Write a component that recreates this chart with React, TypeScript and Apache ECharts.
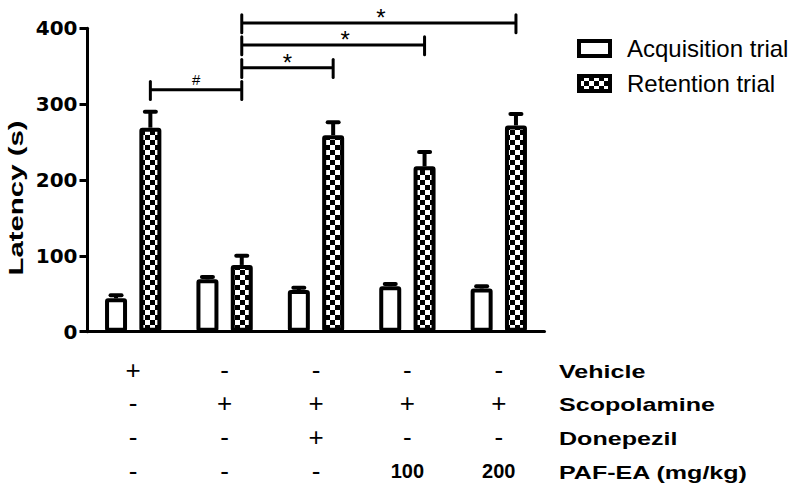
import React, { useEffect, useRef } from 'react';
import * as echarts from 'echarts';

// ---- data ----
const groups = ['Vehicle', 'Scopolamine', 'Scopolamine + Donepezil', 'Scopolamine + PAF-EA 100', 'Scopolamine + PAF-EA 200'];
const seriesNames = ['Acquisition trial', 'Retention trial'];
const acquisition = [44, 69, 55, 60, 57];
const acquisitionErr = [4, 3, 3, 3, 3];
const retention = [269, 88, 259, 218, 272];
const retentionErr = [21, 12, 17, 19, 15];
const yMin = 0;
const yMax = 400;
const yInterval = 100;

// significance brackets (between retention bars)
const bracketFrom = [0, 1, 1, 1];
const bracketTo = [1, 2, 3, 4];
const bracketY = [319, 348, 378, 407];
const bracketLabel = ['#', '*', '*', '*'];

// treatment table
const rowLabels = ['Vehicle', 'Scopolamine', 'Donepezil', 'PAF-EA (mg/kg)'];
const vehicleRow = ['+', '-', '-', '-', '-'];
const scopolamineRow = ['-', '+', '+', '+', '+'];
const donepezilRow = ['-', '-', '+', '-', '-'];
const pafRow = ['-', '-', '-', '100', '200'];

// ---- layout / style constants ----
const FONT = '"Liberation Sans", Arial, Helvetica, sans-serif';
const BAR_W = 22;
const BAR_GAP = 0.56;
const OFFSET = (BAR_W * (1 + BAR_GAP)) / 2;
const BORDER = 4;
const GRID = { left: 87.5, right: 254.5, top: 28.3, bottom: 160.3 };
const ROW_DY = [38, 71.5, 105, 139.5];
const LABEL_X = 559;
const BRACKET_LABEL_DX = [0, 0, 12, 2];
const TICK_UP = 11;
const TICK_DOWN = 13;

const checkerSvg =
  "<svg xmlns='http://www.w3.org/2000/svg' width='10' height='10'>" +
  "<rect width='10' height='10' fill='#ffffff'/>" +
  "<rect width='5' height='5' fill='#000000'/>" +
  "<rect x='5' y='5' width='5' height='5' fill='#000000'/></svg>";
const checkerUrl = 'data:image/svg+xml;charset=utf-8,' + encodeURIComponent(checkerSvg);

function errorSeries(values: number[], errs: number[], dir: number) {
  return {
    type: 'custom',
    z: 5,
    silent: true,
    encode: { x: 0, y: [1, 2] },
    data: values.map((v, i) => [i, v, v + errs[i]]),
    renderItem: (params: any, api: any) => {
      const base = api.coord([api.value(0), api.value(1)]);
      const top = api.coord([api.value(0), api.value(2)]);
      const x = base[0] + dir * OFFSET;
      return {
        type: 'group',
        children: [
          { type: 'line', shape: { x1: x, y1: base[1], x2: x, y2: top[1] }, style: { stroke: '#000', lineWidth: 4 } },
          { type: 'rect', shape: { x: x - 7.5, y: top[1] - 2, width: 15, height: 4, r: 2 }, style: { fill: '#000' } },
        ],
      };
    },
  };
}

export default function App() {
  const ref = useRef<HTMLDivElement>(null);

  useEffect(() => {
    document.body.style.margin = '0';
    const chart = echarts.init(ref.current!, null, { renderer: 'svg' });

    const tableRows = [vehicleRow, scopolamineRow, donepezilRow, pafRow];

    const option: any = {
      animation: false,
      backgroundColor: '#ffffff',
      grid: GRID,
      legend: {
        orient: 'vertical',
        left: 577,
        top: 36.5,
        padding: 0,
        itemWidth: 31,
        itemHeight: 15,
        itemGap: 11,
        icon: 'rect',
        selectedMode: false,
        itemStyle: { borderColor: '#000', borderWidth: BORDER },
        textStyle: { fontSize: 24, fontFamily: FONT, color: '#000', padding: [0, 0, 0, 12] },
        data: seriesNames,
      },
      xAxis: {
        type: 'category',
        data: groups,
        axisLine: { lineStyle: { color: '#000', width: 3 } },
        axisTick: { alignWithLabel: true, length: 9, lineStyle: { color: '#000', width: 3 } },
        axisLabel: { show: false },
        splitLine: { show: false },
      },
      yAxis: {
        type: 'value',
        min: yMin,
        max: yMax,
        interval: yInterval,
        axisLine: { show: true, lineStyle: { color: '#000', width: 3 } },
        axisTick: { show: true, length: 8, lineStyle: { color: '#000', width: 3 } },
        axisLabel: { color: '#000', fontSize: 20, fontWeight: 'bold', fontFamily: '"DejaVu Sans", sans-serif', margin: 10 },
        splitLine: { show: false },
      },
      series: [
        {
          name: seriesNames[0],
          type: 'bar',
          barWidth: BAR_W,
          barGap: BAR_GAP * 100 + '%',
          data: acquisition,
          itemStyle: { color: '#ffffff', borderColor: '#000', borderWidth: BORDER, borderRadius: 1 },
        },
        {
          name: seriesNames[1],
          type: 'bar',
          barWidth: BAR_W,
          barGap: BAR_GAP * 100 + '%',
          data: retention,
          itemStyle: {
            color: { image: checkerUrl, repeat: 'repeat', imageWidth: 10, imageHeight: 10 },
            borderColor: '#000',
            borderWidth: BORDER,
            borderRadius: 1,
          },
        },
        errorSeries(acquisition, acquisitionErr, -1),
        errorSeries(retention, retentionErr, 1),
        {
          type: 'custom',
          z: 6,
          silent: true,
          encode: { x: [0, 1], y: 2 },
          data: bracketFrom.map((f, i) => [f, bracketTo[i], bracketY[i]]),
          renderItem: (params: any, api: any) => {
            const i = params.dataIndex;
            const yv = api.value(2);
            const a = api.coord([api.value(0), yv]);
            const b = api.coord([api.value(1), yv]);
            const x1 = a[0] + OFFSET;
            const x2 = b[0] + OFFSET;
            const tTop = api.coord([0, yv + TICK_UP])[1];
            const tBot = api.coord([0, yv - TICK_DOWN])[1];
            const star = bracketLabel[i] === '*';
            return {
              type: 'group',
              children: [
                { type: 'line', shape: { x1, y1: a[1], x2, y2: a[1] }, style: { stroke: '#000', lineWidth: 3 } },
                { type: 'line', shape: { x1, y1: tTop, x2: x1, y2: tBot }, style: { stroke: '#000', lineWidth: 3, lineCap: 'round' } },
                { type: 'line', shape: { x1: x2, y1: tTop, x2, y2: tBot }, style: { stroke: '#000', lineWidth: 3, lineCap: 'round' } },
                {
                  type: 'text',
                  x: (x1 + x2) / 2 + BRACKET_LABEL_DX[i],
                  y: a[1] - (star ? 5 : 10),
                  style: {
                    text: bracketLabel[i],
                    fontSize: star ? 24 : 15,
                    fontFamily: FONT,
                    fill: '#000',
                    align: 'center',
                    verticalAlign: 'middle',
                  },
                },
              ],
            };
          },
        },
        {
          type: 'custom',
          silent: true,
          encode: { x: 0, y: 1 },
          data: groups.map((g, i) => [i, 0]),
          renderItem: (params: any, api: any) => {
            const i = params.dataIndex;
            const p = api.coord([api.value(0), 0]);
            return {
              type: 'group',
              children: tableRows.map((row, r) => {
                const t = row[i];
                const numeric = t !== '+' && t !== '-';
                return {
                  type: 'text',
                  x: p[0],
                  y: p[1] + ROW_DY[r],
                  style: {
                    text: t,
                    fontSize: numeric ? 20 : 26,
                    fontWeight: numeric ? 'bold' : 'normal',
                    fontFamily: FONT,
                    fill: '#000',
                    align: 'center',
                    verticalAlign: 'middle',
                  },
                };
              }),
            };
          },
        },
      ],
      graphic: [
        {
          type: 'text',
          x: 16,
          y: 198,
          rotation: Math.PI / 2,
          scaleX: 1.4,
          style: {
            text: 'Latency (s)',
            fontSize: 21,
            fontWeight: 'bold',
            fontFamily: FONT,
            fill: '#000',
            align: 'center',
            verticalAlign: 'middle',
          },
        },
        ...rowLabels.map((t, r) => ({
          type: 'text',
          x: LABEL_X,
          y: 331.7 + ROW_DY[r] + 1.5,
          scaleX: 1.32,
          style: {
            text: t,
            fontSize: 19,
            fontWeight: 'bold',
            fontFamily: FONT,
            fill: '#000',
            align: 'left',
            verticalAlign: 'middle',
          },
        })),
      ],
    };

    chart.setOption(option);
    return () => chart.dispose();
  }, []);

  return <div ref={ref} style={{ width: 799, height: 492 }} />;
}
